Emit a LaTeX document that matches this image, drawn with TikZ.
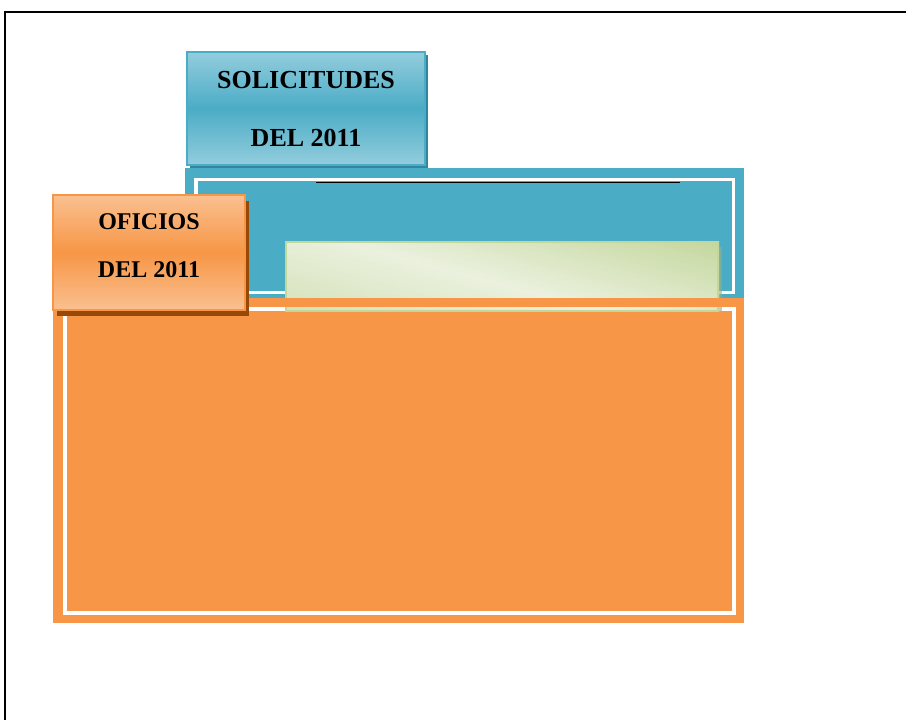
\documentclass[tikz,border=0pt]{standalone}
\usepackage{fontspec}
\setmainfont{Liberation Serif}
\usetikzlibrary{shadows}

\definecolor{aqua}{HTML}{4BACC6}
\definecolor{aqualight}{HTML}{93CDDD}
\definecolor{aquadark}{HTML}{31859C}
\definecolor{tang}{HTML}{F79646}
\definecolor{tanglight}{HTML}{FAC090}
\definecolor{tangdark}{HTML}{984807}
\definecolor{olive}{HTML}{C3D69B}
\definecolor{olivepale}{HTML}{EBF1DE}
\definecolor{olivemid}{HTML}{D5E2BA}

\tikzset{
  tabbox/.style={rectangle, inner sep=0pt, outer sep=0pt, line width=1.5pt},
  soltab/.style={tabbox, draw=aqua, top color=aqualight, bottom color=aqualight, middle color=aqua,
    minimum width=238pt, minimum height=113pt,
    drop shadow={shadow xshift=2.5pt, shadow yshift=-3pt, fill=aquadark, opacity=1}},
  oftab/.style={tabbox, draw=tang, top color=tanglight, bottom color=tanglight, middle color=tang,
    minimum width=192pt, minimum height=115pt,
    drop shadow={shadow xshift=3.5pt, shadow yshift=-6pt, fill=tangdark, opacity=1}},
  tablabel/.style={align=center, inner sep=0pt, text=black},
  whiteline/.style={draw=white, line width=3.5pt},
}

\begin{document}
\begin{tikzpicture}[x=1pt,y=-1pt]
\useasboundingbox (0,0) rectangle (906,720);

% page frame (runs off the right and bottom edges)
\draw[line width=2pt] (5,721) -- (5,12) -- (907,12);

% blue folder
\fill[aqua] (185,168) rectangle (744,300);
\draw[whiteline] (196,179.5) rectangle (733.5,292.5);
\draw[black, line width=1pt] (316,182) -- (680,182);

% orange folder body
\fill[tang] (53,298) rectangle (744,622.5);
\draw[whiteline] (65,309) rectangle (734,613);

% green card tucked between the folders, with a diagonal sheen
\fill[olive!80!black, opacity=0.6] (719,247) rectangle (721.5,311);
\begin{scope}
  \clip (285,241) rectangle (719,311);
  \foreach \d in {-120,-118,...,120}{
    \pgfmathsetmacro\pp{\d>0 ? min(100,\d) : min(100,-1.2*\d)}
    \ifnum\d>0 \def\farcol{olive}\else\def\farcol{olivemid}\fi
    \pgfmathsetmacro\cx{502+0.259*\d}
    \pgfmathsetmacro\cy{285-0.966*\d}
    \fill[\farcol!\pp!olivepale]
      (\cx-386.4,\cy-103.6) -- (\cx+386.4,\cy+103.6)
      -- (\cx+387.1,\cy+101.2) -- (\cx-385.7,\cy-106.0) -- cycle;
  }
\end{scope}
\draw[olive, line width=1.5pt] (286,242) rectangle (718,311);

% front edge of the orange folder
\fill[tang] (53,298) rectangle (744,307);

% tabs
\node[soltab] (sol) at (306,108.5) {};
\node[tablabel, font=\bfseries\fontsize{26}{58}\selectfont] (soltxt) at (306,109) {SOLICITUDES\\DEL 2011};

\node[oftab] (ofi) at (149,252.5) {};
\node[tablabel, font=\bfseries\fontsize{24}{48}\selectfont] (oftxt) at (149,246) {OFICIOS\\DEL 2011};
\end{tikzpicture}
\end{document}
